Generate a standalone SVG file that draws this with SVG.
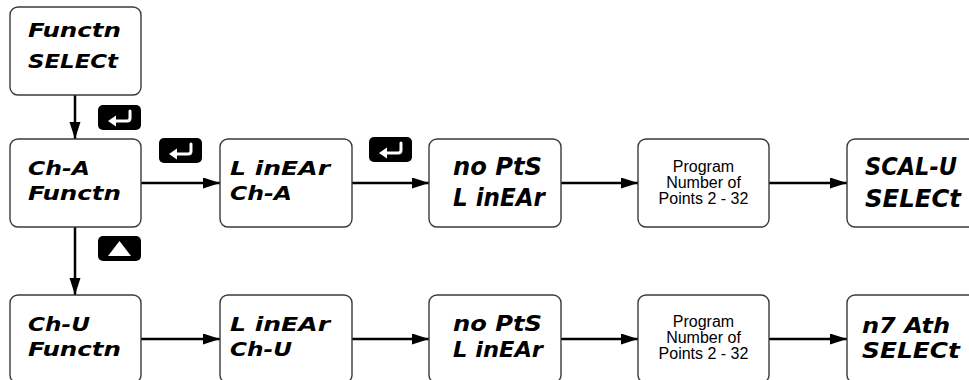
<svg xmlns="http://www.w3.org/2000/svg" xmlns:xlink="http://www.w3.org/1999/xlink" width="969" height="380" viewBox="0 0 969 380">
<style>
.box{fill:#fff;stroke:#3a3a3a;stroke-width:1.4}
.seg{font-family:"DejaVu Sans",sans-serif;font-weight:bold;font-style:oblique;font-size:20px;fill:#000}
.segL{font-family:"DejaVu Sans",sans-serif;font-weight:bold;font-style:oblique;font-size:25px;fill:#000}
.segM{font-family:"DejaVu Sans",sans-serif;font-weight:bold;font-style:oblique;font-size:21px;fill:#000}
.txt{font-family:"Liberation Sans",Arial,sans-serif;font-size:16px;fill:#000;text-anchor:middle}
.conn{stroke:#000;stroke-width:2.5;fill:none}
.key{fill:#000}
.kw{fill:none;stroke:#fff;stroke-width:3;stroke-linecap:round;stroke-linejoin:round}
</style>
<defs>
<marker id="ah" markerUnits="userSpaceOnUse" markerWidth="18" markerHeight="12" refX="17" refY="5.5" orient="auto">
<path d="M0,0 L17,5.5 L0,11 z" fill="#000"/>
</marker>
<g id="enterKey">
<rect class="key" x="0" y="0" width="43" height="25" rx="5"/>
<path class="kw" d="M32,6 L32,13 Q32,16 29,16 L16,16"/>
<path d="M10,16 L18,10.5 L18,21.5 z" fill="#fff"/>
</g>
<g id="upKey">
<rect class="key" x="0" y="0" width="43" height="25" rx="5"/>
<path d="M10,20 L33,20 L21.5,5 z" fill="#fff"/>
</g>
</defs>

<g id="connectors">
<line class="conn" x1="75" y1="95" x2="75" y2="139" marker-end="url(#ah)"/>
<line class="conn" x1="75" y1="227" x2="75" y2="295" marker-end="url(#ah)"/>
<line class="conn" x1="141" y1="183" x2="220" y2="183" marker-end="url(#ah)"/>
<line class="conn" x1="352" y1="183" x2="429" y2="183" marker-end="url(#ah)"/>
<line class="conn" x1="561" y1="183" x2="638" y2="183" marker-end="url(#ah)"/>
<line class="conn" x1="769" y1="183" x2="847" y2="183" marker-end="url(#ah)"/>
<line class="conn" x1="141" y1="339" x2="220" y2="339" marker-end="url(#ah)"/>
<line class="conn" x1="352" y1="339" x2="429" y2="339" marker-end="url(#ah)"/>
<line class="conn" x1="561" y1="339" x2="638" y2="339" marker-end="url(#ah)"/>
<line class="conn" x1="769" y1="339" x2="847" y2="339" marker-end="url(#ah)"/>
</g>

<g id="keys">
<use xlink:href="#enterKey" x="98" y="105"/>
<use xlink:href="#enterKey" x="159" y="138"/>
<use xlink:href="#enterKey" x="369" y="137"/>
<use xlink:href="#upKey" x="98" y="236"/>
</g>

<g id="n-functn-select">
<rect class="box" x="10" y="7" width="131" height="88" rx="8"/>
<text class="seg" x="28" y="37" textLength="93" lengthAdjust="spacingAndGlyphs">Functn</text>
<text class="seg" x="28" y="68" textLength="90" lengthAdjust="spacingAndGlyphs">SELECt</text>
</g>

<g id="n-cha-functn">
<rect class="box" x="10" y="139" width="131" height="88" rx="8"/>
<text class="seg" x="28" y="175" textLength="62" lengthAdjust="spacingAndGlyphs">Ch-A</text>
<text class="seg" x="28" y="200" textLength="93" lengthAdjust="spacingAndGlyphs">Functn</text>
</g>

<g id="n-linear-cha">
<rect class="box" x="220" y="139" width="132" height="88" rx="8"/>
<text class="seg" x="230" y="175" textLength="100" lengthAdjust="spacingAndGlyphs">L inEAr</text>
<text class="seg" x="230" y="200" textLength="62" lengthAdjust="spacingAndGlyphs">Ch-A</text>
</g>

<g id="n-nopts-a">
<rect class="box" x="429" y="139" width="132" height="88" rx="8"/>
<text class="segL" x="453" y="175" textLength="89" lengthAdjust="spacingAndGlyphs">no PtS</text>
<text class="segL" x="453" y="206" textLength="92" lengthAdjust="spacingAndGlyphs">L inEAr</text>
</g>

<g id="n-program-a">
<rect class="box" x="638" y="139" width="131" height="88" rx="8"/>
<text class="txt" x="703.5" y="172">Program</text>
<text class="txt" x="703.5" y="188">Number of</text>
<text class="txt" x="703.5" y="204">Points 2 - 32</text>
</g>

<g id="n-scalu-select">
<rect class="box" x="847" y="139" width="132" height="88" rx="8"/>
<text class="segL" x="865" y="175" textLength="92" lengthAdjust="spacingAndGlyphs">SCAL-U</text>
<text class="segL" x="865" y="207" textLength="96" lengthAdjust="spacingAndGlyphs">SELECt</text>
</g>

<g id="n-chu-functn">
<rect class="box" x="10" y="295" width="131" height="88" rx="8"/>
<text class="seg" x="28" y="331" textLength="62" lengthAdjust="spacingAndGlyphs">Ch-U</text>
<text class="seg" x="28" y="356" textLength="93" lengthAdjust="spacingAndGlyphs">Functn</text>
</g>

<g id="n-linear-chu">
<rect class="box" x="220" y="295" width="132" height="88" rx="8"/>
<text class="seg" x="230" y="331" textLength="100" lengthAdjust="spacingAndGlyphs">L inEAr</text>
<text class="seg" x="230" y="356" textLength="62" lengthAdjust="spacingAndGlyphs">Ch-U</text>
</g>

<g id="n-nopts-u">
<rect class="box" x="429" y="295" width="132" height="88" rx="8"/>
<text class="segM" x="453" y="331" textLength="89" lengthAdjust="spacingAndGlyphs">no PtS</text>
<text class="segM" x="453" y="357" textLength="90" lengthAdjust="spacingAndGlyphs">L inEAr</text>
</g>

<g id="n-program-u">
<rect class="box" x="638" y="295" width="131" height="88" rx="8"/>
<text class="txt" x="703.5" y="327">Program</text>
<text class="txt" x="703.5" y="343">Number of</text>
<text class="txt" x="703.5" y="359">Points 2 - 32</text>
</g>

<g id="n-math-select">
<rect class="box" x="847" y="295" width="132" height="88" rx="8"/>
<text class="segM" x="862" y="333" textLength="88" lengthAdjust="spacingAndGlyphs">n7 Ath</text>
<text class="segM" x="862" y="358" textLength="98" lengthAdjust="spacingAndGlyphs">SELECt</text>
</g>
</svg>
